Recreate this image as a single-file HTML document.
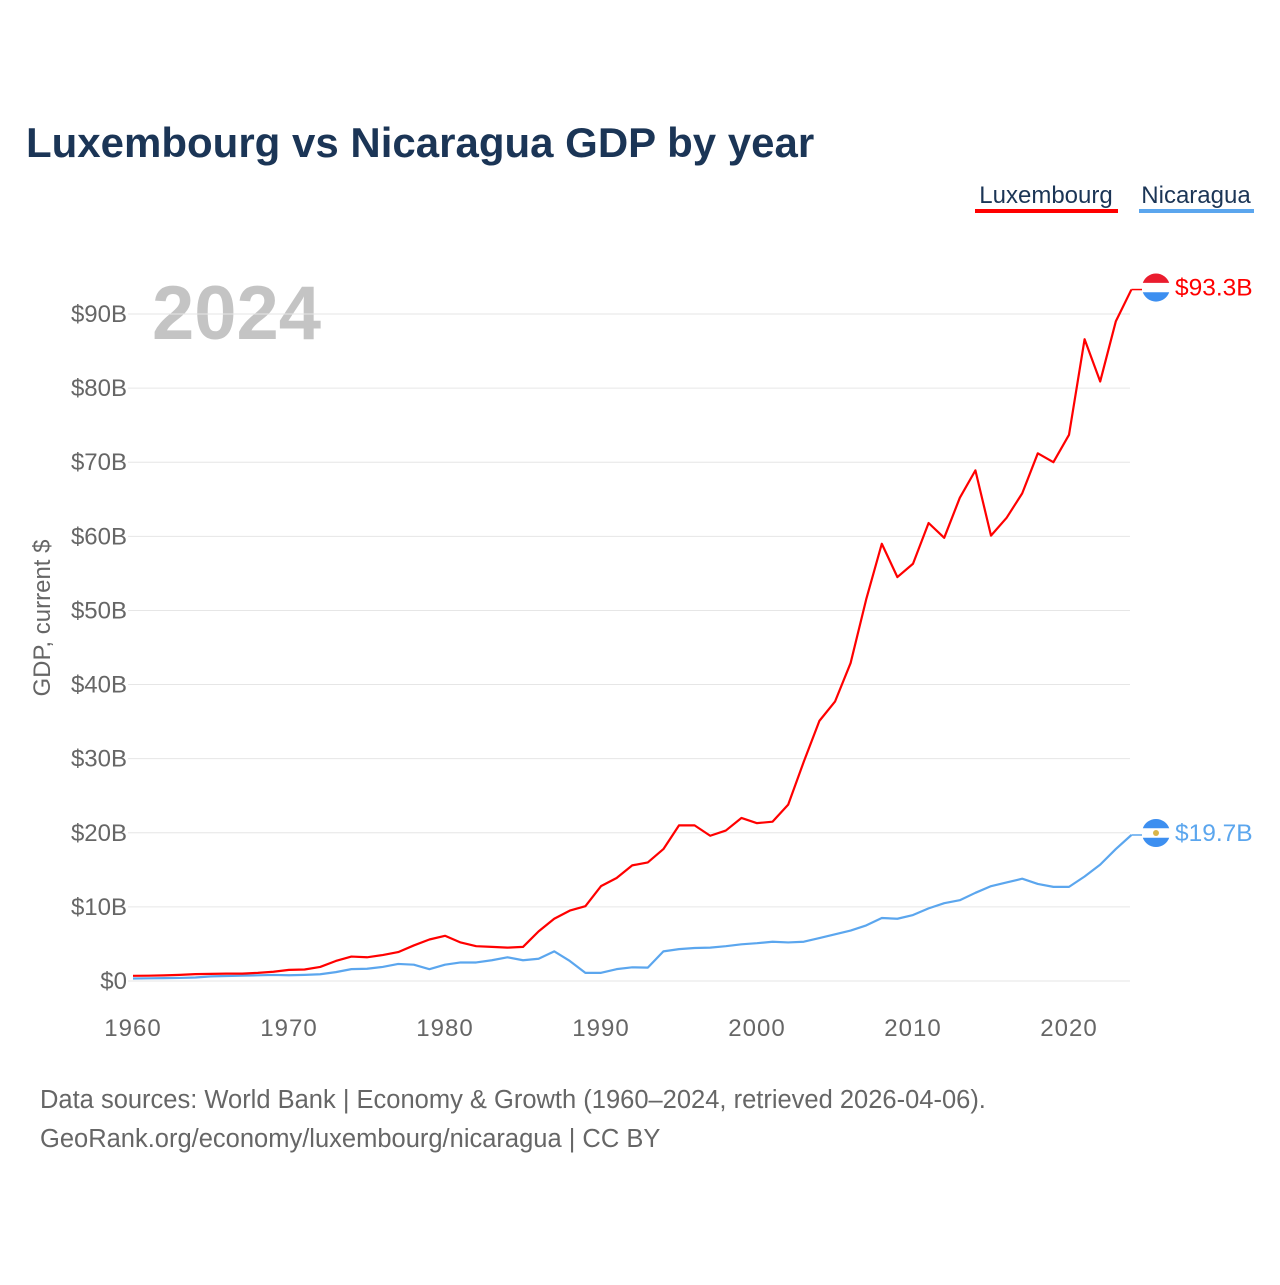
<!DOCTYPE html>
<html><head><meta charset="utf-8"><style>
body{margin:0;background:#fff;font-family:"Liberation Sans",sans-serif}
svg text{font-family:"Liberation Sans",sans-serif}
</style></head><body>
<svg id="c" width="1280" height="1280" viewBox="0 0 1280 1280">
<text x="26" y="157" font-size="42" font-weight="bold" fill="#1b3556">Luxembourg vs Nicaragua GDP by year</text>
<g>
<text x="1046" y="203" font-size="24" fill="#1b3556" text-anchor="middle">Luxembourg</text>
<rect x="975" y="209" width="143" height="4" fill="#ff0000"/>
<text x="1196" y="203" font-size="24" fill="#1b3556" text-anchor="middle">Nicaragua</text>
<rect x="1139" y="209" width="115" height="4" fill="#5ba6ee"/>
</g>
<text x="152" y="339" font-size="76" font-weight="bold" fill="#c4c4c4">2024</text>
<text transform="translate(50,618) rotate(-90)" font-size="24" fill="#666" text-anchor="middle">GDP, current $</text>
<g id="grid"></g><g id="series"></g>
<text x="40" y="1108" font-size="25.5" fill="#666">Data sources: World Bank | Economy &amp; Growth (1960–2024, retrieved 2026-04-06).</text>
<text x="40" y="1147" font-size="25.5" fill="#666">GeoRank.org/economy/luxembourg/nicaragua | CC BY</text>
</svg>
<script>
const years=[];for(let y=1960;y<=2024;y++)years.push(y);
const luxembourg=[0.7,0.72,0.76,0.83,0.93,0.96,1.0,1.0,1.1,1.25,1.5,1.55,1.9,2.7,3.3,3.2,3.5,3.9,4.8,5.6,6.1,5.2,4.7,4.6,4.5,4.6,6.7,8.4,9.5,10.1,12.8,13.9,15.6,16.0,17.8,21.0,21.0,19.6,20.3,22.0,21.3,21.5,23.8,29.6,35.1,37.7,42.9,51.5,59.0,54.5,56.3,61.8,59.8,65.2,68.9,60.1,62.5,65.8,71.2,70.0,73.7,86.6,80.9,89.0,93.3];
const nicaragua=[0.34,0.36,0.39,0.41,0.47,0.62,0.67,0.73,0.77,0.82,0.78,0.83,0.91,1.2,1.6,1.65,1.9,2.3,2.2,1.6,2.2,2.5,2.5,2.8,3.2,2.8,3.0,4.0,2.7,1.1,1.1,1.6,1.85,1.8,4.0,4.3,4.45,4.5,4.7,4.95,5.1,5.3,5.2,5.3,5.8,6.3,6.8,7.5,8.5,8.4,8.9,9.8,10.5,10.9,11.9,12.8,13.3,13.8,13.1,12.7,12.7,14.1,15.7,17.8,19.7];
const yTicks=[0,10,20,30,40,50,60,70,80,90];
const xTicks=[1960,1970,1980,1990,2000,2010,2020];
const X=y=>133+(y-1960)*15.6, Y=v=>981-v*7.411;
const NS="http://www.w3.org/2000/svg";
function el(t,a,p){const e=document.createElementNS(NS,t);for(const k in a)e.setAttribute(k,a[k]);p.appendChild(e);return e;}
const g=document.getElementById('grid'),s=document.getElementById('series');
yTicks.forEach(v=>{
 const l=el('line',{x1:128,x2:1130,y1:Y(v),y2:Y(v),stroke:'#e6e6e6','stroke-width':1},g);
 
 
 const t=el('text',{x:127,y:Y(v)+8,'font-size':24,fill:'#666','text-anchor':'end'},g);t.textContent='$'+v+(v?'B':'');
 
 
});
xTicks.forEach(v=>{
 const t=el('text',{x:X(v),y:1036,'font-size':24,fill:'#666','text-anchor':'middle','letter-spacing':1},g);t.textContent=v;
 
 
});
function line(data,col,name,flag){
 const p=el('polyline',{points:data.map((v,i)=>X(years[i])+','+Y(v)).join(' '),fill:'none',stroke:col,'stroke-width':2.2,'stroke-linejoin':'round'},s);
 
 
 const last=data[data.length-1],ly=Y(last);
 el('line',{x1:X(2024),x2:1142,y1:ly,y2:ly,stroke:col,'stroke-width':1.5},s);
 const f=el('g',{},s);
 
 
 const cx=1156,cy=ly-2;
 if(flag==='lu'){
  el('circle',{cx:cx,cy:cy,r:14,fill:'#fff'},f);
  el('path',{d:`M${cx-13.2},${cy-4.7} A14,14 0 0 1 ${cx+13.2},${cy-4.7} Z`,fill:'#ea1c2e'},f);
  el('path',{d:`M${cx-13.2},${cy+4.7} A14,14 0 0 0 ${cx+13.2},${cy+4.7} Z`,fill:'#3d8ff0'},f);
 }else{
  el('circle',{cx:cx,cy:cy,r:14,fill:'#fff'},f);
  el('path',{d:`M${cx-13.2},${cy-4.7} A14,14 0 0 1 ${cx+13.2},${cy-4.7} Z`,fill:'#3d8ff0'},f);
  el('path',{d:`M${cx-13.2},${cy+4.7} A14,14 0 0 0 ${cx+13.2},${cy+4.7} Z`,fill:'#3d8ff0'},f);
  el('circle',{cx:cx,cy:cy,r:3,fill:'#d9b54a'},f);
 }
 const t=el('text',{x:1175,y:ly+6,'font-size':24.5,fill:col},s);t.textContent='$'+last+'B';
 
 
}
line(nicaragua,'#5ba6ee','nicaragua','ni');
line(luxembourg,'#ff0000','luxembourg','lu');
</script>
</body></html>
